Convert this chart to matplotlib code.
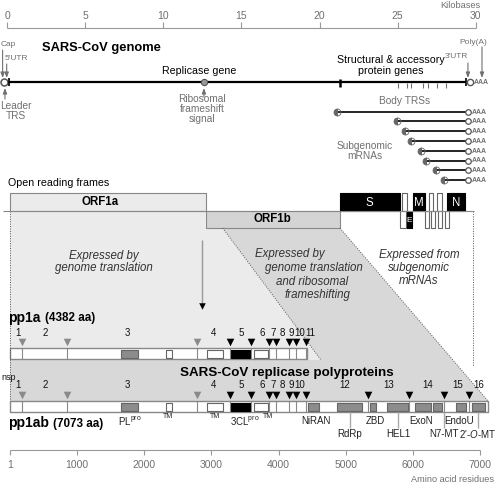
import matplotlib.pyplot as plt
import numpy as np

plt.rcParams['font.family'] = ['Liberation Sans', 'DejaVu Sans']
plt.rcParams['mathtext.fontset'] = 'custom'
plt.rcParams['mathtext.rm'] = 'Liberation Sans'
plt.rcParams['mathtext.it'] = 'Liberation Sans:italic'

# ---- data -------------------------------------------------------------
kb_ticks = [0, 5, 10, 15, 20, 25, 30]
aa_ticks = [1, 1000, 2000, 3000, 4000, 5000, 6000, 7000]

genome_end_kb = 29.39
frameshift_kb = 12.6
structural_start_kb = 21.3
body_trs_kb = [25.0, 25.6, 25.87, 26.6, 26.94, 27.53, 28.07]
sg_mrna_start_kb = [21.13, 24.97, 25.44, 25.83, 26.47, 26.79, 27.43, 27.96]

orf1a_kb = (0.2, 12.7)
orf1b_kb = (12.7, 21.3)
# accessory / structural ORFs (name, start kb, end kb, colour)
orf_top = [('S', 21.29, 25.12, 'black'), ('', 25.27, 25.59, 'white'),
           ('M', 25.98, 26.74, 'black'), ('', 27.0, 27.26, 'white'),
           ('', 27.51, 27.83, 'white'), ('N', 28.15, 29.3, 'black')]
orf_bottom = [('', 25.14, 25.53, 'white'), ('E', 25.59, 25.91, 'black'),
              ('', 26.74, 27.0, 'white'), ('', 27.13, 27.38, 'white'),
              ('', 27.58, 27.83, 'white'), ('', 28.02, 28.28, 'white')]

# polyproteins (amino acids)
pp1a_end = 4425
pp1ab_end = 7117
pp1a_sites = [180, 849, 2784, 3275, 3588, 3856, 3960, 4154, 4258, 4405]
pp1ab_sites = [180, 849, 2784, 3275, 3588, 3856, 3960, 4154, 4258, 4408,
               5331, 5941, 6462, 6834]
plpro_sites = 3  # first three sites cut by PLpro (grey)
pp1a_nsp = ['1', '2', '3', '4', '5', '6', '7', '8', '9', '10', '11']
pp1a_nsp_pos = [125, 522, 1753, 3031, 3440, 3753, 3924, 4058, 4185, 4319, 4478]
pp1ab_nsp = ['1', '2', '3', '4', '5', '6', '7', '8', '9', '10', '12', '13', '14', '15', '16']
pp1ab_nsp_pos = [125, 522, 1753, 3031, 3440, 3753, 3924, 4058, 4185, 4319,
                 4989, 5643, 6224, 6671, 6984]

# domains (start, end, fill)
shared_domains = [(1654, 1907, '#8c8c8c'), (2324, 2413, 'white'), (2934, 3172, 'white'),
                  (3291, 3574, 'black'), (3634, 3842, 'white')]
pp1ab_domains = [(4438, 4601), (4869, 5241), (5361, 5450), (5614, 5926),
                 (6031, 6269), (6299, 6433), (6641, 6790), (6880, 7073)]
# labels under pp1ab: text, aa position, row (-1 TM, 0 upper, 1 lower), size, leader line
domain_labels = [('PL$^{\\mathrm{pro}}$', 1788, 0, 7, False), ('TM', 2353, -1, 5, False),
                 ('TM', 3053, -1, 5, False), ('3CL$^{\\mathrm{pro}}$', 3500, 0, 7, False),
                 ('TM', 3842, -1, 5, False),
                 ('NiRAN', 4557, 0, 7, False), ('RdRp', 5063, 1, 7, True),
                 ('ZBD', 5435, 0, 7, False), ('HEL1', 5777, 1, 7, True),
                 ('ExoN', 6120, 0, 7, False), ('N7-MT', 6463, 1, 7, True),
                 ('EndoU', 6685, 0, 7, False), ("2'-$\\mathit{O}$-MT", 6968, 1, 7, True)]


# ---- scales: the amino-acid axis is the base x scale ---------------------
def px_to_aa(px):
    return 1 + (np.asarray(px, dtype=float) - 10) / 0.06717


def kb(v):
    return px_to_aa(7 + np.asarray(v, dtype=float) * 15.63)


GREY = '#707070'
LINE = '#888888'
LIGHT = '#ebebeb'
MID = '#d8d8d8'
DOT = dict(color='#555555', lw=0.7, ls=(0, (1, 1.5)))

fig = plt.figure(figsize=(4.98, 4.83), dpi=100)
ax = fig.add_axes([0, 0, 1, 1])
ax.set_xlim(px_to_aa(0), px_to_aa(498))
ax.set_ylim(483, 0)
ax.axis('off')


def arrow(x, y0, y1, color=GREY, lw=0.8, hw=0.15, hl=0.4, ms=8):
    ax.annotate('', xy=(x, y1), xytext=(x, y0),
                arrowprops=dict(arrowstyle=f'-|>,head_length={hl},head_width={hw}',
                                color=color, lw=lw, shrinkA=0, shrinkB=0,
                                mutation_scale=ms))


# ---- kilobase scale ---------------------------------------------------
ax.hlines(28, kb(kb_ticks[0]), kb(kb_ticks[-1]), color='#999999', lw=0.8)
ax.vlines(kb(kb_ticks), 22, 28, color='#999999', lw=0.8)
for t in kb_ticks:
    ax.text(kb(t), 16, str(t), ha='center', va='center', fontsize=7.5, color=GREY)
ax.text(kb(28.98), 5, 'Kilobases', ha='center', va='center', fontsize=6.6, color=GREY)

# ---- genome -----------------------------------------------------------
ax.text(kb(2.24), 48, 'SARS-CoV genome', fontsize=9.3, fontweight='bold', va='center')
ax.hlines(82, kb(0.15), kb(genome_end_kb), color='black', lw=1.6)
ax.plot(kb(-0.19), 82, 'o', ms=5, mfc='white', mec='#555555', mew=1.1)
ax.vlines([kb(0.15), kb(genome_end_kb)], 78, 86, color='black', lw=1.2)
ax.plot(kb(29.62), 82, 'o', ms=4.5, mfc='white', mec='#555555', mew=1)
ax.text(kb(29.86), 82.5, 'AAA', fontsize=5, fontweight='bold', color=GREY, va='center')
ax.plot(kb(frameshift_kb), 82, 'o', ms=4.5, mfc='#999999', mec='#555555', mew=0.8)
ax.vlines(kb(structural_start_kb), 79, 87, color='black', lw=1.8)
ax.vlines(kb(body_trs_kb), 83, 88, color=GREY, lw=0.8)

ax.text(kb(-0.38), 44, 'Cap', fontsize=6, color=GREY, va='center')
arrow(kb(-0.28), 50, 78)
ax.text(kb(-0.13), 59, "5'UTR", fontsize=6, color=GREY, va='center')
arrow(kb(-0.02), 64, 78)
arrow(kb(-0.13), 99, 88)
ax.text(kb(0.58), 111, 'Leader\nTRS', fontsize=7.3, color=GREY, ha='center',
        va='center', linespacing=1.0)
ax.text(kb(12.3), 71, 'Replicase gene', fontsize=7.7, ha='center', va='center')
arrow(kb(frameshift_kb), 97, 88)
ax.text(kb(12.48), 94, 'Ribosomal\nframeshift\nsignal', fontsize=7.3, color=GREY,
        ha='center', va='top', linespacing=1.0)
ax.text(kb(24.57), 65.5, 'Structural & accessory\nprotein genes', fontsize=7.7,
        ha='center', va='center', linespacing=1.05)
ax.text(kb(28.73), 56, "3'UTR", fontsize=6, color=GREY, ha='center', va='center')
arrow(kb(29.49), 63, 78)
ax.text(kb(29.81), 42, 'Poly(A)', fontsize=6, color=GREY, ha='center', va='center')
arrow(kb(30.39), 47, 78)

# ---- subgenomic mRNAs ---------------------------------------------------
ax.text(kb(25.46), 101, 'Body TRSs', fontsize=7.3, color=GREY, ha='center', va='center')
ax.text(kb(22.9), 151, 'Subgenomic\nmRNAs', fontsize=7.3, color=GREY, ha='center',
        va='center', linespacing=1.05)
for i, s in enumerate(sg_mrna_start_kb):
    y = 111.5 + i * 9.8
    ax.hlines(y, kb(s), kb(29.4), color='black', lw=1.2)
    ax.plot(kb(s), y, 'o', ms=5, fillstyle='left', mfc='#666666', mfcalt='none',
            mec='#666666', mew=0.6)
    ax.plot(kb(29.49), y, 'o', ms=4, mfc='white', mec='#555555', mew=0.9)
    ax.text(kb(29.76), y + 0.5, 'AAA', fontsize=5, fontweight='bold', color=GREY, va='center')

# ---- shaded projections ------------------------------------------------
x_diag = px_to_aa(321)
light = [(kb(orf1a_kb[0]), 211), (kb(orf1a_kb[1]), 211), (kb(orf1a_kb[1]), 228),
         (kb(13.8), 228), (x_diag, 360), (1, 360)]
mid = [(kb(13.8), 228), (kb(orf1b_kb[1]), 228), (pp1ab_end, 401),
       (1, 401), (1, 360), (x_diag, 360)]
ax.fill(*zip(*light), color=LIGHT, lw=0, zorder=0)
ax.fill(*zip(*mid), color=MID, lw=0, zorder=0)
ax.plot([1, 1], [211, 401], **DOT)
ax.plot([kb(13.8), x_diag], [228, 360], **DOT)
ax.plot([kb(orf1b_kb[1]), pp1ab_end], [228, 401], **DOT)
ax.plot([kb(29.8), kb(29.8)], [211, 366], **DOT)

# ---- open reading frames ------------------------------------------------
ax.text(kb(0.06), 183, 'Open reading frames', fontsize=7.7, va='center')
ax.hlines(211, kb(-0.26), kb(29.9), color=LINE, lw=0.8)
ax.broken_barh([(kb(orf1a_kb[0]), kb(orf1a_kb[1]) - kb(orf1a_kb[0]))], (193, 18),
               facecolors=LIGHT, edgecolors=LINE, lw=0.8)
ax.text(kb(5.95), 202, 'ORF1a', fontsize=8.3, fontweight='bold',
        ha='center', va='center')
ax.broken_barh([(kb(orf1b_kb[0]), kb(orf1b_kb[1]) - kb(orf1b_kb[0]))], (211, 17),
               facecolors='#d4d4d4', edgecolors=LINE, lw=0.8)
ax.text(kb(np.mean(orf1b_kb)), 219.5, 'ORF1b', fontsize=8.3, fontweight='bold',
        ha='center', va='center')
for genes, y0, h in [(orf_top, 193, 18), (orf_bottom, 211, 17)]:
    for name, a, b, c in genes:
        ax.broken_barh([(kb(a), kb(b) - kb(a))], (y0, h), facecolors=c,
                       edgecolors='black' if c == 'black' else '#666666', lw=0.8)
        if name:
            ax.text(kb((a + b) / 2), y0 + h / 2 + 0.5, name, color='white',
                    fontsize=8.3 if h == 18 else 6, ha='center', va='center')

ax.text(kb(6.2), 262, 'Expressed by\ngenome translation', fontsize=8.3, style='italic',
        color='#333333', ha='center', va='center', linespacing=1.1)
ax.vlines(px_to_aa(202), 240, 305, color='#999999', lw=1)
ax.scatter([px_to_aa(202)], [306], marker='v', s=22, color='black', lw=0, zorder=3)
for txt, px, y in [('Expressed by', 290, 254), ('genome translation', 314, 268),
                   ('and ribosomal', 312, 282), ('frameshifting', 318, 295)]:
    ax.text(px_to_aa(px), y, txt, fontsize=8.3, style='italic', color='#333333',
            ha='center', va='center')
ax.text(px_to_aa(419), 268, 'Expressed from\nsubgenomic\nmRNAs', fontsize=8.3,
        style='italic', color='#333333', ha='center', va='center', linespacing=1.1)


# ---- polyproteins ---------------------------------------------------------
def polyprotein(end, sites, nsp, nsp_pos, y_bar, y_tri, y_num, extra):
    ax.broken_barh([(1, end - 1)], (y_bar, 11), facecolors='white', edgecolors=LINE, lw=1)
    ax.vlines(sites, y_bar, y_bar + 11, color=LINE, lw=0.8)
    for a, b, c in shared_domains:
        ax.broken_barh([(a, b - a)], (y_bar + 2, 7.5), facecolors=c,
                       edgecolors='#666666' if c != 'black' else 'black', lw=0.8)
    for a, b in extra:
        ax.broken_barh([(a, b - a)], (y_bar + 2, 7.5), facecolors='#8c8c8c',
                       edgecolors='#666666', lw=0.8)
    ax.scatter(sites[:plpro_sites], [y_tri] * plpro_sites, marker='v', s=30,
               color='#8a8a8a', lw=0, zorder=3)
    ax.scatter(sites[plpro_sites:], [y_tri] * (len(sites) - plpro_sites), marker='v',
               s=30, color='black', lw=0, zorder=3)
    for t, p in zip(nsp, nsp_pos):
        ax.text(p, y_num, t, fontsize=7, ha='center', va='center', color='#111111')


polyprotein(pp1a_end, pp1a_sites, pp1a_nsp, pp1a_nsp_pos, 348, 342, 333, [])
polyprotein(pp1ab_end, pp1ab_sites, pp1ab_nsp, pp1ab_nsp_pos, 401, 394.5, 385, pp1ab_domains)

ax.text(px_to_aa(8), 318, 'pp1a', fontsize=10, fontweight='bold', va='center')
ax.text(px_to_aa(45), 318.5, '(4382 aa)', fontsize=8.4, fontweight='bold', va='center')
ax.text(px_to_aa(8), 423, 'pp1ab', fontsize=10, fontweight='bold', va='center')
ax.text(px_to_aa(53), 423.5, '(7073 aa)', fontsize=8.4, fontweight='bold', va='center')
ax.text(px_to_aa(1), 377, 'nsp', fontsize=6.5, va='center', color='#111111')
ax.text(px_to_aa(287), 373, 'SARS-CoV replicase polyproteins', fontsize=9.6,
        fontweight='bold', ha='center', va='center')

for txt, p, row, fs, lead in domain_labels:
    y = {-1: 416.5, 0: 421.5, 1: 434}[row]
    if lead:
        ax.vlines(p, 412, 428, color='#aaaaaa', lw=1)
    ax.text(p, y, txt, fontsize=fs, ha='center', va='center', color='#222222')

# ---- amino acid scale ---------------------------------------------------
ax.hlines(450, aa_ticks[0], aa_ticks[-1], color='#999999', lw=0.8)
ax.vlines(aa_ticks, 450, 455, color='#999999', lw=0.8)
for t in aa_ticks:
    ax.text(t, 465, str(t), ha='center', va='center', fontsize=7.5, color=GREY)
ax.text(px_to_aa(494), 479, 'Amino acid residues', ha='right', va='center',
        fontsize=6.6, color=GREY)

fig.savefig('out.png', dpi=100)
